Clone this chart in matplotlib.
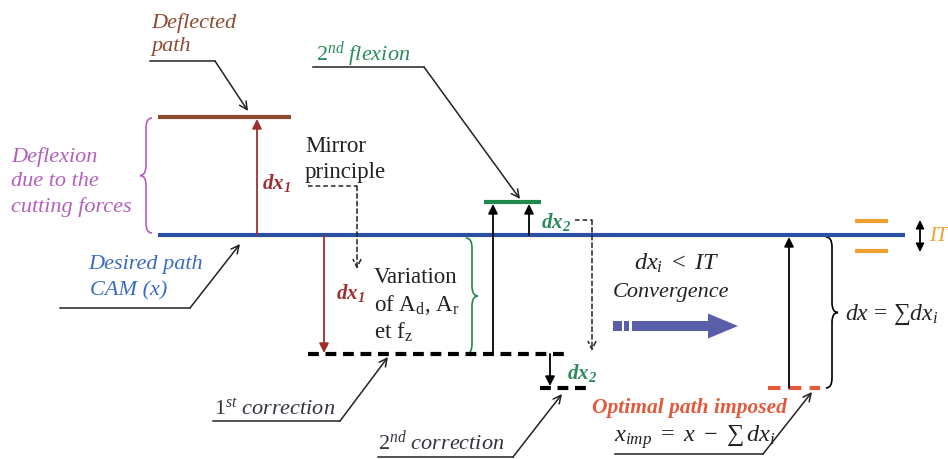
import matplotlib
matplotlib.use('Agg')
import matplotlib.pyplot as plt
from matplotlib.path import Path
from matplotlib.patches import PathPatch, FancyArrow, Rectangle

plt.rcParams['mathtext.fontset'] = 'custom'
plt.rcParams['mathtext.rm'] = 'Liberation Serif'
plt.rcParams['mathtext.it'] = 'Liberation Serif:italic'
plt.rcParams['mathtext.bf'] = 'Liberation Serif:italic:bold'
SERIF = ['Liberation Serif', 'DejaVu Serif']

# path levels (pixel rows of the sketch)
y_deflected = 118
y_desired = 236
y_flexion2 = 203
y_correction1 = 355
y_correction2 = 389
y_optimal = 389
it_band = [222, 252]

# horizontal extents of each path
desired_x = [158, 905]
deflected_x = [158, 291]
flexion2_x = [484, 541]
correction1_x = [308, 570]
correction2_x = [540, 592]
optimal_x = [768, 820]
it_x = [855, 888]

BLUE = '#2b4fa3'
BROWN = '#8c4a32'
DARKRED = '#9e2f2f'
PURPLE = '#b45fbd'
GREEN = '#1f8a4c'
GREEN_TXT = '#2a8c5a'
ORANGE = '#f0a030'
RED = '#e25a3c'
TXT_BLUE = '#3a6cc4'
INK = '#222222'


def brace(ax, x, y0, y1, w, color, lw=1.2):
    # vertical curly brace, w>0 points right, w<0 points left
    ym = (y0 + y1) / 2.0
    h = w / 2.0
    q = min(10, (y1 - y0) / 6.0)
    verts = [(x, y0), (x + h, y0), (x + h, y0 + q),
             (x + h, ym - q),
             (x + h, ym), (x + w, ym),
             (x + h, ym), (x + h, ym + q),
             (x + h, y1 - q),
             (x + h, y1), (x, y1)]
    codes = [Path.MOVETO, Path.CURVE3, Path.CURVE3,
             Path.LINETO,
             Path.CURVE3, Path.CURVE3,
             Path.CURVE3, Path.CURVE3,
             Path.LINETO,
             Path.CURVE3, Path.CURVE3]
    ax.add_patch(PathPatch(Path(verts, codes), fill=False, edgecolor=color, lw=lw))


def leader(ax, x0, x1, y, tip, color=INK):
    ax.plot([x0, x1], [y, y], color=color, lw=1.1)
    ax.annotate('', xy=tip, xytext=(x1, y),
                arrowprops=dict(arrowstyle='->', color=color, lw=1.1,
                                mutation_scale=14, shrinkA=0, shrinkB=0))


def arrow(ax, x, y0, y1, color, lw=1.3, style='-|>', ls='-'):
    ax.annotate('', xy=(x, y1), xytext=(x, y0),
                arrowprops=dict(arrowstyle=style, color=color, lw=lw, ls=ls,
                                mutation_scale=14, shrinkA=0, shrinkB=0))


fig = plt.figure(figsize=(9.48, 4.6), dpi=100)
ax = fig.add_axes([0, 0, 1, 1])
ax.set_xlim(0, 948)
ax.set_ylim(460, 0)
ax.axis('off')

# paths
ax.plot(desired_x, [y_desired] * 2, color=BLUE, lw=3, solid_capstyle='butt', zorder=3)
ax.plot(deflected_x, [y_deflected] * 2, color=BROWN, lw=3, solid_capstyle='butt')
ax.plot(flexion2_x, [y_flexion2] * 2, color=GREEN, lw=3, solid_capstyle='butt')
ax.plot(correction1_x, [y_correction1] * 2, color='black', lw=3, ls=(0, (2.6, 1.6)))
ax.plot(correction2_x, [y_correction2] * 2, color='black', lw=3, ls=(0, (2.6, 1.6)))
ax.plot(optimal_x, [y_optimal] * 2, color=RED, lw=3, ls=(0, (3, 2)))
for yy in it_band:
    ax.plot(it_x, [yy, yy], color=ORANGE, lw=3, solid_capstyle='butt')

# displacement arrows
arrow(ax, 257, y_desired, y_deflected + 2, DARKRED)
arrow(ax, 324, y_desired, y_correction1 - 1, DARKRED)
arrow(ax, 493, y_correction1, y_flexion2 + 2, 'black')
arrow(ax, 529, y_desired, y_flexion2 + 2, 'black')
arrow(ax, 550, y_correction1, y_correction2 - 2, 'black')
arrow(ax, 789, y_optimal, y_desired + 2, 'black')
ax.annotate('', xy=(920, it_band[0] - 1), xytext=(920, it_band[1] + 1),
            arrowprops=dict(arrowstyle='<|-|>', color='black', lw=1.3,
                            mutation_scale=12, shrinkA=0, shrinkB=0))

# mirror dashed links
ax.plot([308, 357], [187, 187], color=INK, lw=1.1, ls=(0, (3, 2)))
arrow(ax, 357, 187, 270, INK, lw=1.1, style='->', ls=(0, (3, 2)))
ax.plot([575, 592], [221, 221], color=INK, lw=1.1, ls=(0, (3, 2)))
arrow(ax, 592, 221, 352, INK, lw=1.1, style='->', ls=(0, (3, 2)))

# braces
brace(ax, 152, y_deflected + 1, y_desired - 2, -12, PURPLE)
brace(ax, 466, y_desired + 3, y_correction1, 12, GREEN)
brace(ax, 826, y_desired + 2, y_optimal, 12, 'black')

# convergence arrow
ax.add_patch(Rectangle((613, 322), 9, 10, color='#5a5ea8', lw=0))
ax.add_patch(Rectangle((624, 322), 5, 10, color='#5a5ea8', lw=0))
ax.add_patch(FancyArrow(632, 327, 106, 0, width=10, head_width=25, head_length=30,
                        length_includes_head=True, color='#5a5ea8', lw=0))

# leaders
leader(ax, 150, 215, 62, (248, 112))
leader(ax, 313, 424, 68, (520, 200))
leader(ax, 60, 190, 309, (240, 245))
leader(ax, 213, 340, 422, (388, 358))
leader(ax, 378, 513, 458, (562, 395))
leader(ax, 615, 763, 455, (812, 393))

# texts
it = dict(family=SERIF, style='italic', fontsize=16, va='center', ha='left')
rm = dict(family=SERIF, fontsize=16.5, va='center', ha='left')
bx = dict(family=SERIF, fontsize=15, va='center', ha='left')
mt = dict(family=SERIF, fontsize=17.5, va='center', ha='left')
ax.text(151, 23, 'Deflected', color=BROWN, **it)
ax.text(151, 47, 'path', color=BROWN, **it)
ax.text(11, 157, 'Deflexion', color=PURPLE, **it)
ax.text(11, 182, 'due to the', color=PURPLE, **it)
ax.text(11, 207, 'cutting forces', color=PURPLE, **it)
ax.text(88, 265, 'Desired path', color=TXT_BLUE, **it)
ax.text(90, 291, 'CAM (x)', color=TXT_BLUE, **it)
ax.text(305, 147, 'Mirror', color=INK, **rm)
ax.text(305, 173, 'principle', color=INK, **rm)
ax.text(374, 278, 'Variation', color=INK, **rm)
ax.text(374, 305, r'of A$_{\mathrm{d}}$, A$_{\mathrm{r}}$', color=INK, **rm)
ax.text(374, 332, r'et f$_{\mathrm{z}}$', color=INK, **rm)
ax.text(316, 55, r'$\mathit{2^{nd}\ flexion}$', color=GREEN_TXT, **it)
ax.text(214, 409, r'$\mathit{1^{st}\ correction}$', color='#333340', **it)
ax.text(378, 442, r'$\mathit{2^{nd}\ correction}$', color='#333340', **it)
ax.text(262, 183, r'$\mathbf{dx_1}$', color=DARKRED, **bx)
ax.text(336, 293, r'$\mathbf{dx_1}$', color=DARKRED, **bx)
ax.text(541, 222, r'$\mathbf{dx_2}$', color=GREEN_TXT, **bx)
ax.text(567, 373, r'$\mathbf{dx_2}$', color=GREEN_TXT, **bx)
ax.text(634, 263, r'$dx_i\ <\ IT$', color=INK, **mt)
ax.text(613, 293, 'Convergence', color=INK, **it)
ax.text(845, 315, r'$dx\,=\,\sum dx_i$', color=INK, family=SERIF, fontsize=17,
        va='center', ha='left')
ax.text(787, 408, 'Optimal path imposed', color=RED, family=SERIF, style='italic',
        weight='bold', fontsize=15.5, va='center', ha='right')
ax.text(614, 437, r'$x_{imp}\ =\ x\ -\ \sum\, dx_i$', color=INK, **mt)
ax.text(929, 237, 'IT', color=ORANGE, family=SERIF, style='italic', fontsize=15,
        va='center', ha='left')

fig.savefig('out.png', dpi=100)
